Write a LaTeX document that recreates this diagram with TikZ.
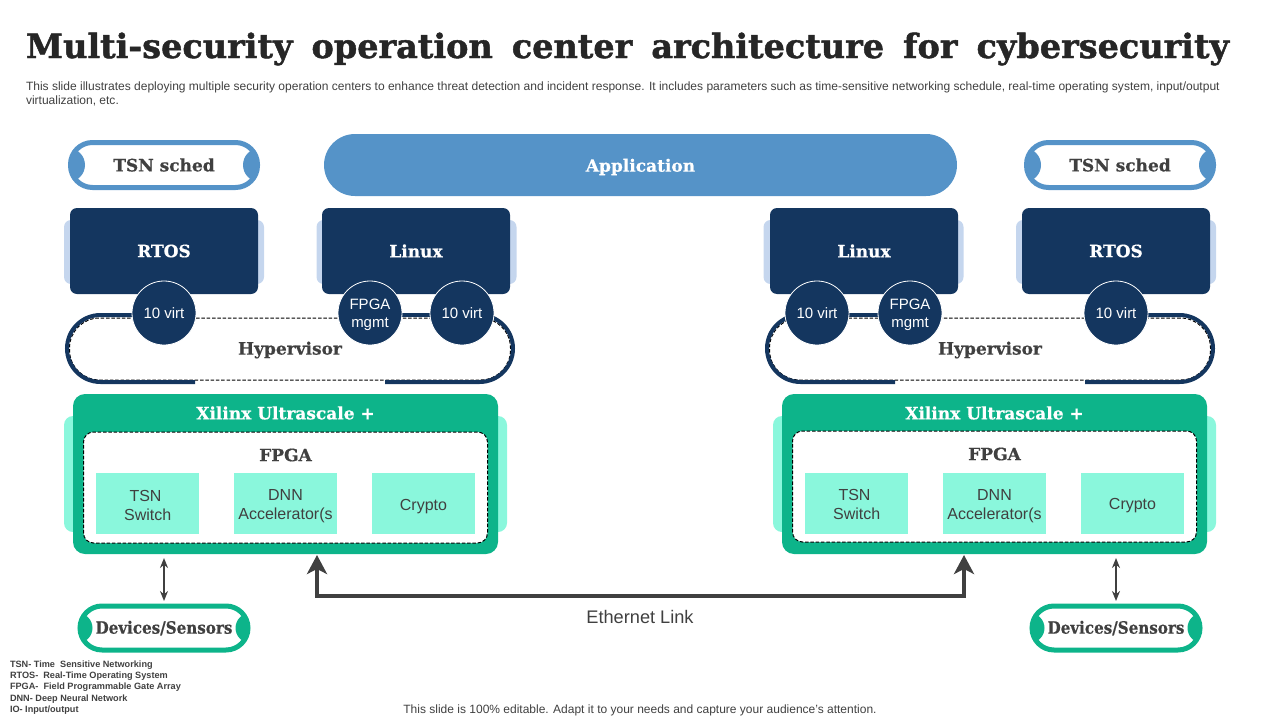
\documentclass[tikz,border=0pt]{standalone}
\usepackage{fontspec}
\usetikzlibrary{arrows.meta}
\setmainfont{Liberation Sans}
\newfontfamily\slab{DejaVu Serif Bold}[FakeBold=0.6]
\newfontfamily\slabtitle{DejaVu Serif Bold}[FakeBold=1.4]
\definecolor{navy}{HTML}{14365F}
\definecolor{halo}{HTML}{C5D6EE}
\definecolor{sky}{HTML}{5593C8}
\definecolor{jade}{HTML}{0DB48A}
\definecolor{mint}{HTML}{8AF7DC}
\definecolor{ink}{HTML}{404040}
\definecolor{titleink}{HTML}{262626}
\tikzset{
  box/.style={rectangle,inner sep=0pt,outer sep=0pt,align=center},
  heading/.style={box,font=\slab\fontsize{17}{20}\selectfont,text=ink},
  headingw/.style={box,font=\slab\fontsize{17}{20}\selectfont,text=white},
  osbox/.style={box,fill=navy,rounded corners=7pt,minimum width=188pt,minimum height=86pt},
  oshalo/.style={box,fill=halo,rounded corners=7pt,minimum width=200pt,minimum height=64pt},
  virt/.style={circle,inner sep=0pt,outer sep=0pt,minimum size=64pt,fill=navy,draw=white,line width=.8pt},
  virtlabel/.style={box,text=white,font=\fontsize{15}{18}\selectfont},
  hyper/.style={box,draw=black,dash pattern=on 3.5pt off 1.8pt,line width=1pt,rounded corners=30pt,minimum width=441pt,minimum height=62pt},
  hyperedge/.style={draw=navy,line width=4pt},
  xilinx/.style={box,fill=jade,rounded corners=12pt,minimum width=425pt,minimum height=160pt},
  xhalo/.style={box,fill=mint,rounded corners=9pt,minimum width=443pt,minimum height=116pt},
  fpgabox/.style={box,fill=white,draw=black,dash pattern=on 3.5pt off 1.8pt,line width=1pt,rounded corners=10pt,minimum width=404pt,minimum height=111pt},
  unit/.style={box,fill=mint,minimum width=103pt,minimum height=61pt},
  unitlabel/.style={box,text=ink,font=\fontsize{16}{19}\selectfont},
  link/.style={draw=ink,line width=2.4pt,{Stealth[length=10pt,width=8pt]}-{Stealth[length=10pt,width=8pt]}},
  ethlink/.style={draw=ink,line width=4pt,{Stealth[length=19pt,width=20pt,inset=5pt]}-{Stealth[length=19pt,width=20pt,inset=5pt]},line join=miter},
}
\newcommand{\pillnode}[8]{% name, x, y, w, h, colour, blob radius, text
  \node[box,fill=white,draw=#6,line width=5pt,rounded corners=22pt,minimum width=#4pt,minimum height=#5pt] (#1) at (#2,#3) {};
  \begin{scope}
    \clip[rounded corners=22pt] (#1.south west) rectangle (#1.north east);
    \fill[#6] ([xshift=-2.5pt]#1.west) circle (#7pt);
    \fill[#6] ([xshift=2.5pt]#1.east) circle (#7pt);
  \end{scope}
  \node[heading] (#1text) at (#1.center) {#8};
}
\newcommand{\fpgagroup}[9]{% suffix, xilinx cx, title y, inner cy, fpga y, boxes cy, x1, x2, x3
  \node[xhalo] (xh#1) at (#2,474) {};
  \node[xilinx] (x#1) at (#2,474) {};
  \node[headingw] (xt#1) at (#2,#3) {Xilinx Ultrascale +};
  \node[fpgabox] (f#1) at (#2,#4) {};
  \node[heading] (ft#1) at (#2,#5) {FPGA};
  \node[unit] (ua#1) at (#7,#6) {};
  \node[unit] (ub#1) at (#8,#6) {};
  \node[unit] (uc#1) at (#9,#6) {};
  \node[unitlabel,xshift=-2pt,yshift=-1.5pt] (ual#1) at (ua#1.center) {TSN\\\ Switch};
  \node[unitlabel,yshift=-3pt] (ubl#1) at (ub#1.center) {DNN\\Accelerator(s};
  \node[unitlabel,yshift=-3pt] (ucl#1) at (uc#1.center) {Crypto};
}
\begin{document}
\begin{tikzpicture}[x=1pt,y=-1pt]
\useasboundingbox (0,0) rectangle (1280,720);
% title
\node[box,anchor=west,text=titleink] (title) at (26,49) {\resizebox{1203pt}{!}{\slabtitle\fontsize{36}{40}\selectfont Multi-security\hspace{.22em} operation\hspace{.22em} center\hspace{.22em} architecture\hspace{.22em} for\hspace{.22em} cybersecurity}};
\node[box,anchor=north west,align=left,text=ink,font=\fontsize{12.02}{14}\selectfont] (sub) at (26,82) {This slide illustrates deploying multiple security operation centers to enhance threat detection and incident response. It includes parameters such as time-sensitive networking schedule, real-time operating system, input/output\\virtualization, etc.};

% top row
\pillnode{tsnL}{164}{165}{187}{45}{sky}{17}{TSN sched}
\pillnode{tsnR}{1120}{165}{187}{45}{sky}{17}{TSN sched}
\node[box,fill=sky,rounded corners=31pt,minimum width=633pt,minimum height=62pt] (app) at (640.5,165) {};
\node[headingw,yshift=-2pt] (appt) at (app.center) {Application};

% OS boxes
\node[oshalo] (h1) at (164,252) {};
\node[oshalo] (h2) at (416.5,252) {};
\node[oshalo] (h3) at (863.5,252) {};
\node[oshalo] (h4) at (1116,252) {};
\node[osbox] (rtosL) at (164,251) {};
\node[osbox] (linuxL) at (416,251) {};
\node[osbox] (linuxR) at (864,251) {};
\node[osbox] (rtosR) at (1116,251) {};
\node[headingw] (rtosLt) at (rtosL.center) {RTOS};
\node[headingw] (linuxLt) at (linuxL.center) {Linux};
\node[headingw] (linuxRt) at (linuxR.center) {Linux};
\node[headingw] (rtosRt) at (rtosR.center) {RTOS};

% hypervisors
\node[hyper] (hvL) at (290,349) {};
\node[hyper] (hvR) at (990,349) {};
\node[heading] (hvLt) at (290,350) {Hypervisor};
\node[heading] (hvRt) at (990,350) {Hypervisor};
\path[hyperedge] (140,315) -- (100.5,315) .. controls (82,315) and (67,330) .. (67,348.5) .. controls (67,367) and (82,382) .. (100.5,382) -- (195,382);
\path[hyperedge] (402,315) -- (431,315);
\path[hyperedge] (385,382) -- (479.5,382) .. controls (498,382) and (513,367) .. (513,348.5) .. controls (513,330) and (498,315) .. (479.5,315);
\path[hyperedge] (895,382) -- (800.5,382) .. controls (782,382) and (767,367) .. (767,348.5) .. controls (767,330) and (782,315) .. (800.5,315);
\path[hyperedge] (845,315) -- (885,315);
\path[hyperedge] (1085,382) -- (1179.5,382) .. controls (1198,382) and (1213,367) .. (1213,348.5) .. controls (1213,330) and (1198,315) .. (1179.5,315) -- (1145,315);
\node[virt] (v1) at (164,313) {};
\node[virt] (m1) at (370,313) {};
\node[virt] (v2) at (462,313) {};
\node[virt] (v3) at (817,313) {};
\node[virt] (m2) at (910,313) {};
\node[virt] (v4) at (1116,313) {};
\node[virtlabel] (v1t) at (v1.center) {10 virt};
\node[virtlabel,yshift=-2pt] (m1t) at (m1.center) {FPGA\\mgmt};
\node[virtlabel] (v2t) at (v2.center) {10 virt};
\node[virtlabel] (v3t) at (v3.center) {10 virt};
\node[virtlabel,yshift=-2pt] (m2t) at (m2.center) {FPGA\\mgmt};
\node[virtlabel] (v4t) at (v4.center) {10 virt};

% FPGA groups
\fpgagroup{L}{285.5}{413}{487.5}{455}{503.5}{147.5}{285.5}{423.5}
\fpgagroup{R}{994.5}{413}{486.5}{454}{503}{856.5}{994.5}{1132.5}

% devices
\pillnode{devL}{164}{628}{168}{44}{jade}{15}{\scalebox{0.89}[1]{Devices/Sensors}}
\pillnode{devR}{1116}{628}{168}{44}{jade}{15}{\scalebox{0.89}[1]{Devices/Sensors}}

% links
\draw[link,shorten >=4pt,shorten <=5pt] (devL.north) -- (devL.north |- xL.south);
\draw[link,shorten >=4pt,shorten <=5pt] (devR.north) -- (devR.north |- xR.south);
\coordinate (ethA) at (317,596);
\coordinate (ethB) at (964,596);
\draw[ethlink,shorten >=1pt,shorten <=1pt] (ethA |- xL.south) -- (ethA) -- (ethB) -- (ethB |- xR.south);
\node[box,text=ink,font=\fontsize{18.2}{21}\selectfont] (eth) at (640,617) {Ethernet Link};

% legend and footer
\node[box,anchor=north west,align=left,text=ink,font=\bfseries\fontsize{9.15}{11.35}\selectfont] (legend) at (10,660.5) {TSN- Time~ Sensitive Networking\\RTOS-~ Real-Time Operating System\\FPGA-~ Field Programmable Gate Array\\DNN- Deep Neural Network\\IO- Input/output};
\node[box,text=ink,font=\fontsize{12}{14}\selectfont] (foot) at (640,710.5) {This slide is 100\% editable. Adapt it to your needs and capture your audience's attention.};
\end{tikzpicture}
\end{document}
